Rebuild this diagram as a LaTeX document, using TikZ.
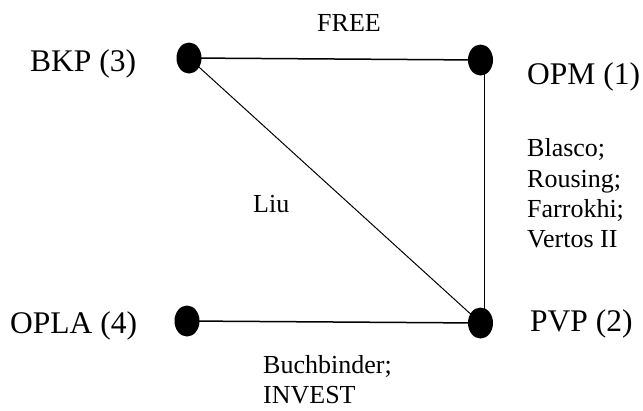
\documentclass[tikz,border=0pt]{standalone}
\usepackage{fontspec}
\setmainfont{Liberation Serif}
\usetikzlibrary{shapes.geometric}
\begin{document}
\begin{tikzpicture}[x=1pt,y=-1pt,
  dot/.style={ellipse,fill=black,draw=none,minimum width=25pt,minimum height=31pt,inner sep=0pt},
  big/.style={anchor=base west,inner sep=0pt,font=\fontsize{31.5}{36}\selectfont},
  small/.style={anchor=base west,inner sep=0pt,align=left,font=\fontsize{26}{30.3}\selectfont},
  edge/.style={line width=1.5pt},
  thinedge/.style={line width=1pt}]
\useasboundingbox (0,0) rectangle (643,410);
% dots
\node[dot] (bkp) at (189,58) {};
\node[dot] (opm) at (480.5,60) {};
\node[dot] (pvp) at (480.5,323) {};
\node[dot] (opla) at (187,321) {};
% edges
\draw[edge] (bkp.center) -- (opm.center);
\draw[edge] ([xshift=4pt]opm.center) -- ([xshift=4pt]pvp.center);
\draw[edge] (opla.center) -- (pvp.center);
\draw[thinedge] (bkp.center) -- (pvp.center);
% labels
\node[big] (lbkp) at (30,71) {BKP (3)};
\node[big] (lopm) at (527,84) {OPM (1)};
\node[big] (lopla) at (10,333) {OPLA (4)};
\node[big] (lpvp) at (530,331.5) {PVP (2)};
\node[small] (free) at (317,31.5) {FREE};
\node[small] (liu) at (253,212) {Liu};
\node[small] (blasco) at (527,247.6) {Blasco;\\Rousing;\\Farrokhi;\\Vertos II};
\node[small] (buch) at (263,403.5) {Buchbinder;\\INVEST};
\end{tikzpicture}
\end{document}
